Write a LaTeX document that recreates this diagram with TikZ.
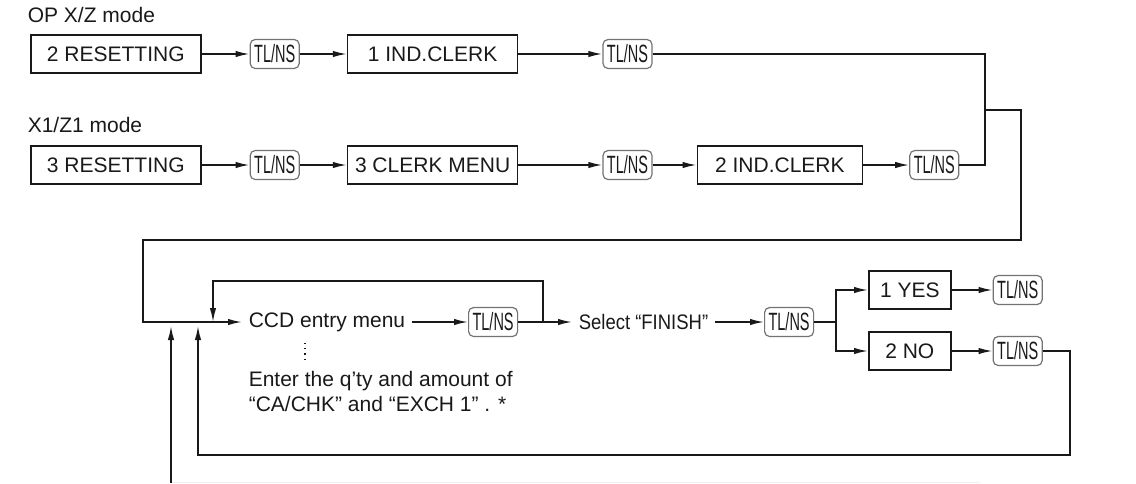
\documentclass[tikz,border=0pt]{standalone}
\usepackage{fontspec}
\setmainfont{Liberation Sans}
\usepackage{graphicx}
\usetikzlibrary{positioning}
\usetikzlibrary{arrows.meta}
\usetikzlibrary{calc}

\newcommand{\tlns}{\scalebox{0.58}[1]{\fontsize{12.5}{13}\selectfont TL/NS}}

\begin{document}
\begin{tikzpicture}[x=0.5pt,y=-0.5pt,>={Latex[length=7pt,width=3.2pt]},
                    line width=0.8pt,color=black!90,node distance=24pt,
                    font=\fontsize{10.5}{12.5}\selectfont,
                    menu box/.style={draw,minimum width=85pt,minimum height=19pt,inner sep=0pt},
                    small box/.style={draw,minimum width=41pt,minimum height=19pt,inner sep=0pt},
                    key/.style={draw=black!55,line width=0.6pt,rounded corners=2.5pt,
                                minimum width=24.5pt,minimum height=14.5pt,inner sep=0pt},
                    step text/.style={inner xsep=3pt,inner ysep=2pt}]
\useasboundingbox (0,0) rectangle (1136,483);

% OP X/Z mode
\node[anchor=west,inner sep=0pt] (opmode) at (27,15) {OP X/Z mode};
\node[menu box,anchor=west] (rset2) at (30,54) {2 RESETTING};
\node[key] (k1) [right=24pt of rset2] {\tlns};
\node[menu box] (ind1) [right=23.5pt of k1] {1 IND.CLERK};
\node[key] (k2) [right=42pt of ind1] {\tlns};

% X1/Z1 mode
\node[anchor=west,inner sep=0pt] (xmode) at (27,125) {X1/Z1 mode};
\node[menu box,anchor=west] (rset3) at (30,165) {3 RESETTING};
\node[key] (k3) [right=24pt of rset3] {\tlns};
\node[menu box] (clmenu) [right=23.5pt of k3] {3 CLERK MENU};
\node[key] (k4) [right=42pt of clmenu] {\tlns};
\node[menu box,minimum width=82.5pt] (ind2) [right=22pt of k4] {2 IND.CLERK};
\node[key] (k5) [right=23pt of ind2] {\tlns};

% CCD entry
\node[step text,anchor=west] (ccd) at (242,322) {CCD entry menu};
\node[key,anchor=west] (k6) at (468,322) {\tlns};
\node[step text,anchor=west] (fin) at (572,322) {\scalebox{0.88}[1]{Select “FINISH”}};
\node[key,anchor=west] (k7) at (764,322) {\tlns};
\node[small box,anchor=west] (yes) at (868,290) {1 YES};
\node[small box,anchor=west] (no) at (868,351) {2 NO};
\node[key] (k8) [right=20.5pt of yes] {\tlns};
\node[key] (k9) [right=20.5pt of no] {\tlns};
\node[anchor=west,inner sep=0pt,align=left] (note) at (248,391)
  {Enter the q’ty and amount of\\“CA/CHK” and “EXCH 1” . *};

\coordinate (join) at (985,110);
\coordinate (turn) at (1021,240);
\coordinate (entry) at (143,322);
\coordinate (loopx) at (543,322);
\coordinate (loop) at (213,281);
\coordinate (split) at (836,322);
\coordinate (back) at (1070,455);
\coordinate (ret) at (198,326);
\coordinate (start) at (171,483);
\coordinate (starttip) at (171,326);
\coordinate (d1) at (305,343);
\coordinate (d2) at (305,360);

\draw[->] (rset2) -- (k1);
\draw[->] (k1) -- (ind1);
\draw[->] (ind1) -- (k2);
\draw[->] (rset3) -- (k3);
\draw[->] (k3) -- (clmenu);
\draw[->] (clmenu) -- (k4);
\draw[->] (k4) -- (ind2);
\draw[->] (ind2) -- (k5);
\draw (k2.east) -| (join);
\draw (k5.east) -| (join);
\draw[->] (join) -| (turn) -| (entry) -- (ccd);

\draw[->] (ccd) -- (k6);
\draw[->] (k6) -- (fin);
\draw[->] (loopx) |- (loop) -- (loop |- ccd.west);
\draw[dotted,line width=0.6pt] (d1) -- (d2);
\draw[->] (fin) -- (k7);
\draw (k7) -- (split);
\draw[->] (split) |- (yes);
\draw[->] (split) |- (no);
\draw[->] (yes) -- (k8);
\draw[->] (no) -- (k9);
\draw[->] (k9.east) -| (back) -| (ret);
\draw[->] (start) -- (starttip);
\draw[black!6,line width=0.5pt] (172,482) -- (980,482);

\end{tikzpicture}
\end{document}
